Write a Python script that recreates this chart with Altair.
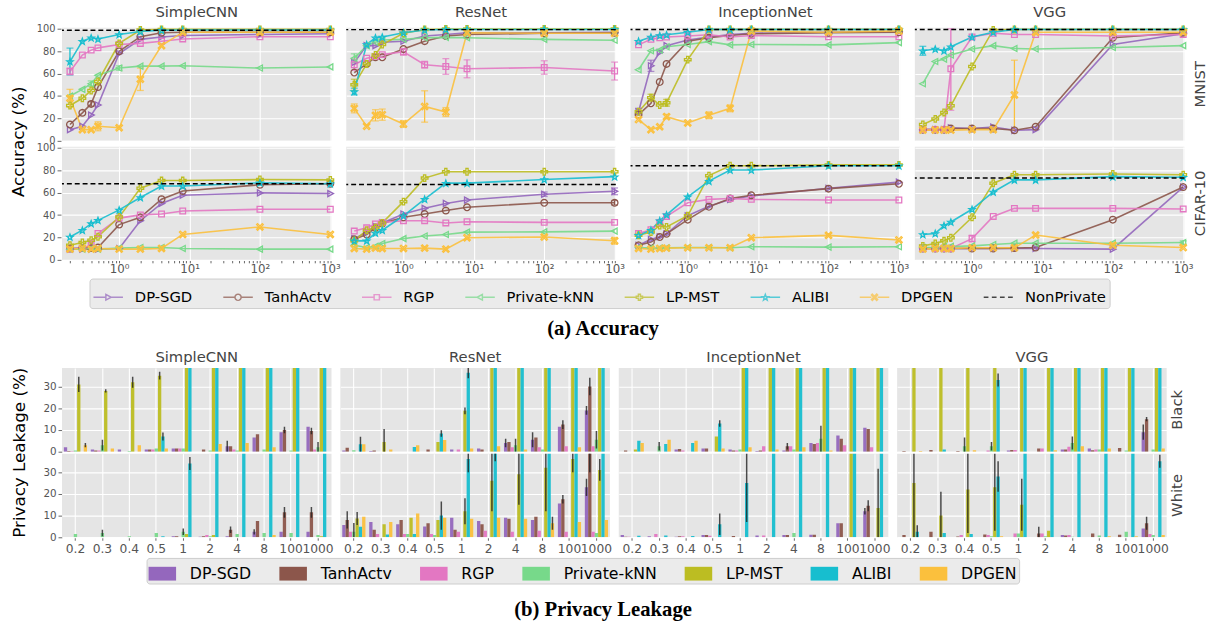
import math
import altair as alt
import pandas as pd

# ---------------- data ----------------
EPS = [0.2, 0.3, 0.4, 0.5, 1, 2, 4, 8, 100, 1000]
EPS_LABELS = ["0.2", "0.3", "0.4", "0.5", "1", "2", "4", "8", "100", "1000"]
METHODS = ["DP-SGD", "TanhActv", "RGP", "Private-kNN", "LP-MST", "ALIBI", "DPGEN"]
MODELS = ["SimpleCNN", "ResNet", "InceptionNet", "VGG"]
DATASETS = ["MNIST", "CIFAR-10"]
ATTACKS = ["Black", "White"]
COLORS = ["#9467bd", "#8c564b", "#e377c2", "#77d98a", "#bcbd22", "#17becf", "#fbc03d"]

# Accuracy (%) per dataset / model / method, one value per epsilon
ACC_MNIST_SIMPLECNN = {
    "DP-SGD": [10, 13, 23, 32, 78, 90.6, 92.7, 94, 95, 95.6],
    "TanhActv": [14.6, 25, 33, 48, 80, 93, 96.5, 97, 97, 97],
    "RGP": [62, 76.6, 81, 83, 86, 87, 89, 91, 93, 93],
    "Private-kNN": [40, 46, 51, 58.5, 65, 66.7, 66.7, 67, 65, 66],
    "LP-MST": [31.6, 38, 45, 53, 87, 99, 99.5, 99.5, 99.5, 99.5],
    "ALIBI": [70.8, 89, 92, 91, 95, 97.7, 98.8, 99, 99, 99],
    "DPGEN": [38, 10, 10, 13, 11.7, 55, 85, 97, 97, 97],
}
ACC_MNIST_RESNET = {
    "DP-SGD": [70, 85, 85, 88, 89, 93.6, 95, 96.5, 96.5, 97],
    "TanhActv": [61, 68.7, 74.6, 74.6, 82, 89, 93.6, 95, 96, 96.5],
    "RGP": [68, 73.7, 75.4, 77, 79.5, 68, 66.4, 64.3, 65.5, 62.3],
    "Private-kNN": [73.7, 85, 88, 90, 90.6, 92, 92.4, 92, 90.6, 89.8],
    "LP-MST": [50, 68.7, 76.6, 86, 96, 99.4, 99.8, 99.8, 99.8, 99.8],
    "ALIBI": [44, 86, 92, 92.7, 96.5, 99, 99.4, 99.4, 99.4, 99.4],
    "DPGEN": [29, 13, 22.8, 23.4, 15, 30.7, 25.7, 96.5, 96, 96],
}
ACC_MNIST_INCEPTION = {
    "DP-SGD": [26, 67, 79, 85, 90, 92.7, 95, 96, 97, 97.7],
    "TanhActv": [23.4, 33.6, 52.6, 68.7, 89, 92, 94, 95.6, 96.5, 97],
    "RGP": [85.7, 90.6, 92, 92.7, 93.6, 94.7, 92.7, 94, 93, 93],
    "Private-kNN": [63.5, 80.4, 81, 84, 86, 88.6, 85.7, 86, 85.7, 87.7],
    "LP-MST": [26, 38.6, 32, 34, 72.5, 99.4, 99.5, 99.5, 99.5, 99.5],
    "ALIBI": [89, 92.7, 94, 94.7, 97, 99.4, 99.4, 99.4, 99.4, 99.4],
    "DPGEN": [19, 10, 12.6, 21.6, 16, 22.8, 29, 98, 97, 98],
}
ACC_MNIST_VGG = {
    "DP-SGD": [10, 10, 10, 11.7, 11, 12.3, 9.4, 10, 86, 95.6],
    "TanhActv": [10, 10, 10, 11, 11, 11, 9.4, 12.6, 92, 96.5],
    "RGP": [10, 10, 10, 64.3, 92.7, 96, 95, 95, 93.6, 95],
    "Private-kNN": [51, 70.8, 73, 76.6, 82, 85, 82.5, 82, 83.3, 85],
    "LP-MST": [14.6, 19.6, 25.4, 31.3, 66.4, 99, 99.5, 99.5, 99.5, 99.5],
    "ALIBI": [80.4, 82, 80.4, 84, 92.7, 97, 99.4, 99.4, 99.4, 99.4],
    "DPGEN": [9.6, 9.6, 9.6, 9.6, 10, 10, 41, 97, 97, 97],
}
ACC_CIFAR_SIMPLECNN = {
    "DP-SGD": [9.6, 9.6, 9.6, 9.6, 10.2, 35, 50.4, 57.7, 59.8, 59.2],
    "TanhActv": [10.2, 10.5, 10.5, 11, 31.5, 38, 54.2, 61.5, 67, 68],
    "RGP": [9.6, 10.5, 13, 23.6, 37.3, 40.2, 41, 43.7, 45.2, 45.2],
    "Private-kNN": [9.6, 9.6, 10.2, 9.6, 10.5, 11, 11, 10.2, 9.6, 9.6],
    "LP-MST": [13, 15.5, 17.5, 20.7, 38.2, 64, 70.8, 70.8, 71.7, 71.4],
    "ALIBI": [20.4, 26.5, 32.4, 35.3, 44.6, 55.7, 66, 66, 68.8, 68],
    "DPGEN": [9.6, 10.2, 9.6, 10.2, 9.6, 9.6, 10.2, 22.7, 29.4, 22.7],
}
ACC_CIFAR_RESNET = {
    "DP-SGD": [19, 24.8, 30, 33, 41, 46, 50.4, 53.4, 58.6, 61.2],
    "TanhActv": [18.4, 22.7, 28.6, 32.4, 38, 41, 44, 47, 51, 51],
    "RGP": [25.7, 28.6, 32, 33.5, 35, 35, 33, 34, 33.5, 33.5],
    "Private-kNN": [13, 11, 12, 14.6, 19, 21.3, 22.7, 24.8, 25, 25.7],
    "LP-MST": [17, 26.5, 28.6, 33, 52, 73, 78.7, 78.7, 78.7, 78.7],
    "ALIBI": [17, 17, 24, 26.5, 39.4, 54.2, 68.5, 68.5, 71.7, 74.3],
    "DPGEN": [10.2, 9.6, 10.5, 10.2, 10.2, 10.5, 9.6, 19.8, 20.4, 17],
}
ACC_CIFAR_INCEPTION = {
    "DP-SGD": [13, 18.4, 20.7, 23.3, 39.4, 48, 54, 57, 64, 69.4],
    "TanhActv": [13, 16, 20.4, 23.3, 35.9, 47.5, 54.8, 57.7, 63.6, 68],
    "RGP": [23.6, 27, 33.5, 38.8, 51, 54, 54.8, 54, 53.4, 53.4],
    "Private-kNN": [11, 10.5, 10.5, 10.8, 11, 11, 10.8, 11.7, 11.4, 11.7],
    "LP-MST": [22, 24.8, 30.6, 29.4, 39.4, 75.2, 84, 84, 84.8, 84.8],
    "ALIBI": [22, 26.5, 35, 40.2, 56.3, 70.3, 80.2, 80.2, 84, 84],
    "DPGEN": [10.2, 9.6, 10.2, 10.5, 10.8, 10.8, 10.8, 19.8, 21.9, 17.8],
}
ACC_CIFAR_VGG = {
    "DP-SGD": [10.2, 10.2, 10.2, 10.2, 10.2, 10.2, 10.2, 10.2, 9.6, 65],
    "TanhActv": [10.2, 10.2, 10.2, 10.2, 10.2, 10.2, 10.5, 11, 35.9, 65],
    "RGP": [10.2, 10.2, 10.2, 10.2, 19, 38.8, 46, 46, 46, 45.5],
    "Private-kNN": [11, 11, 12, 12, 12.5, 13.7, 14.9, 14.9, 14.9, 15.5],
    "LP-MST": [12.5, 14.6, 17, 19.8, 38, 68.5, 76, 76, 76.7, 76],
    "ALIBI": [22.7, 23.6, 30.6, 33.8, 45.2, 60.6, 71.4, 71.4, 74.3, 73.8],
    "DPGEN": [9.6, 10.2, 10.2, 10.2, 10.8, 10.8, 10.8, 22.2, 13, 11],
}
NONPRIVATE_MNIST = [98.8, 99.3, 99.4, 99.4]
NONPRIVATE_CIFAR = [68, 67.3, 84, 73.2]

# notable accuracy error bars: (dataset, model, method, eps, +/- err)
ACC_ERRORS = [
    ("MNIST", "SimpleCNN", "ALIBI", 0.2, 12), ("MNIST", "SimpleCNN", "RGP", 0.2, 3),
    ("MNIST", "SimpleCNN", "DPGEN", 0.2, 8), ("MNIST", "SimpleCNN", "DPGEN", 0.5, 4),
    ("MNIST", "SimpleCNN", "DPGEN", 2, 10), ("MNIST", "SimpleCNN", "Private-kNN", 1, 2),
    ("MNIST", "SimpleCNN", "Private-kNN", 0.4, 2.5), ("MNIST", "SimpleCNN", "TanhActv", 0.4, 2),
    ("MNIST", "ResNet", "RGP", 0.2, 5), ("MNIST", "ResNet", "RGP", 1, 3),
    ("MNIST", "ResNet", "RGP", 2, 3), ("MNIST", "ResNet", "RGP", 4, 7),
    ("MNIST", "ResNet", "RGP", 8, 8), ("MNIST", "ResNet", "RGP", 100, 6),
    ("MNIST", "ResNet", "RGP", 1000, 8), ("MNIST", "ResNet", "Private-kNN", 0.2, 4),
    ("MNIST", "ResNet", "LP-MST", 0.2, 5), ("MNIST", "ResNet", "ALIBI", 0.2, 3),
    ("MNIST", "ResNet", "DPGEN", 0.2, 4), ("MNIST", "ResNet", "DPGEN", 0.4, 5),
    ("MNIST", "ResNet", "DPGEN", 0.5, 5), ("MNIST", "ResNet", "DPGEN", 1, 3),
    ("MNIST", "ResNet", "DPGEN", 2, 14), ("MNIST", "ResNet", "DPGEN", 4, 4),
    ("MNIST", "InceptionNet", "DP-SGD", 0.2, 3), ("MNIST", "InceptionNet", "DP-SGD", 0.3, 5),
    ("MNIST", "InceptionNet", "LP-MST", 0.3, 3), ("MNIST", "InceptionNet", "LP-MST", 0.5, 3),
    ("MNIST", "InceptionNet", "DPGEN", 0.5, 2), ("MNIST", "InceptionNet", "DPGEN", 2, 3),
    ("MNIST", "InceptionNet", "DPGEN", 4, 3),
    ("MNIST", "VGG", "ALIBI", 0.2, 4), ("MNIST", "VGG", "RGP", 0.5, 37),
    ("MNIST", "VGG", "DPGEN", 4, 31),
    ("CIFAR-10", "SimpleCNN", "RGP", 0.4, 4),
    ("CIFAR-10", "ResNet", "DP-SGD", 1000, 3), ("CIFAR-10", "ResNet", "DP-SGD", 100, 2),
    ("CIFAR-10", "ResNet", "DPGEN", 1000, 3), ("CIFAR-10", "ResNet", "TanhActv", 1000, 2),
    ("CIFAR-10", "VGG", "RGP", 1, 3), ("CIFAR-10", "VGG", "DPGEN", 100, 2),
    ("CIFAR-10", "VGG", "Private-kNN", 1000, 1.5),
]

# Privacy leakage (%) per model / attack / method, one value per epsilon
LEAK_SIMPLECNN_BLACK = {
    "DP-SGD": [2, 1, 1, 1, 1.5, 0, 2.5, 6.5, 9, 11.5],
    "TanhActv": [0.3, 0.5, 0, 1, 1.5, 1, 2.5, 8, 10, 9.5],
    "RGP": [0.2, 0.5, 0, 1, 1.5, 0, 1, 0, 0, 1],
    "Private-kNN": [0.5, 3, 0.3, 1.5, 1.5, 0.5, 0.5, 1, 0.5, 2],
    "LP-MST": [31, 28, 32, 35, 100, 100, 100, 100, 100, 100],
    "ALIBI": [0, 0, 0, 7, 100, 100, 100, 100, 100, 100],
    "DPGEN": [3, 1.5, 3, 1.5, 0, 3.5, 4, 2, 0, 0],
}
LEAK_SIMPLECNN_WHITE = {
    "DP-SGD": [0, 0, 0, 0, 0.5, 0.3, 0.5, 2.5, 2.5, 2.5],
    "TanhActv": [0, 0, 0, 0, 0.5, 0.5, 3.5, 7.5, 11.5, 11.5],
    "RGP": [0, 0, 0, 0, 0, 1, 0, 0, 0, 0],
    "Private-kNN": [1.5, 2, 0.5, 2, 2.5, 0.5, 1.5, 2, 2, 1],
    "LP-MST": [0, 0, 0, 0, 1.5, 1, 0, 0, 0, 0.5],
    "ALIBI": [0, 0, 0, 0.5, 34, 100, 100, 100, 100, 100],
    "DPGEN": [0, 0, 0, 0, 0, 0, 0, 1, 0, 0],
}
LEAK_RESNET_BLACK = {
    "DP-SGD": [0.5, 0.3, 0, 0, 1, 1.5, 4, 5.5, 11.5, 19],
    "TanhActv": [1.8, 0.5, 0, 1, 0, 1, 4.5, 6.5, 12.5, 30],
    "RGP": [0, 0, 0, 0, 1, 0, 2, 2, 2.5, 2.5],
    "Private-kNN": [0.7, 0, 0, 0, 0, 0, 3, 1, 0, 5.5],
    "LP-MST": [0, 4.5, 0, 4.5, 18.8, 100, 100, 100, 100, 100],
    "ALIBI": [3.4, 0, 2.2, 8.4, 36.3, 100, 100, 100, 100, 100],
    "DPGEN": [3.4, 1, 3, 5.4, 1.5, 2.5, 1, 0, 2, 0],
}
LEAK_RESNET_WHITE = {
    "DP-SGD": [5.7, 7, 6, 5, 9, 7.5, 9, 8, 15.5, 23],
    "TanhActv": [8, 3.5, 8, 6.5, 3.5, 6, 8.5, 9.5, 17.5, 40],
    "RGP": [2.6, 1.5, 1.5, 1.5, 2.5, 3, 2.5, 3, 2.5, 2.5],
    "Private-kNN": [2.6, 0, 1.5, 1, 0, 0, 0, 0, 0, 2],
    "LP-MST": [8.6, 6, 9, 8, 12, 26, 29, 32, 36, 31],
    "ALIBI": [4.8, 1.3, 1.5, 10, 36, 40, 100, 100, 100, 100],
    "DPGEN": [9.4, 7, 11, 9, 8.5, 9, 8.5, 6.5, 7, 8],
}
LEAK_INCEPTION_BLACK = {
    "DP-SGD": [0, 0, 1, 1.5, 1, 0.3, 0.5, 4, 7.5, 11],
    "TanhActv": [0.5, 0, 1.3, 1.5, 0.5, 0.5, 2.5, 3.5, 6, 10.5],
    "RGP": [0, 0, 0.5, 0, 0.5, 2.5, 2.5, 4, 3, 2],
    "Private-kNN": [0, 2.5, 0, 0, 1, 0, 1, 6, 0, 0],
    "LP-MST": [1, 0, 0, 7, 100, 100, 100, 100, 100, 100],
    "ALIBI": [5, 3.5, 4, 13, 100, 100, 100, 100, 100, 100],
    "DPGEN": [4, 5.5, 5, 1.5, 2, 1, 2, 0.5, 0, 0],
}
LEAK_INCEPTION_WHITE = {
    "DP-SGD": [1, 0.5, 0.3, 1, 0, 0.8, 1, 1.2, 6.5, 12],
    "TanhActv": [0.3, 0, 0.5, 1, 0.6, 0, 1, 1.2, 6.5, 14.5],
    "RGP": [0.3, 1.5, 0.5, 0.7, 0, 0.8, 0, 0, 0, 0],
    "Private-kNN": [0, 0, 0, 0, 0, 0, 2, 0, 0, 0],
    "LP-MST": [0, 0, 0, 0, 0, 0, 0, 0, 100, 13.5],
    "ALIBI": [0.7, 0.8, 0.6, 6, 25, 100, 100, 100, 100, 100],
    "DPGEN": [0, 0, 0, 0, 0, 0, 0, 0, 0, 0],
}
LEAK_VGG_BLACK = {
    "DP-SGD": [0, 0, 0, 0, 0.5, 0, 1, 1.5, 0, 9],
    "TanhActv": [0.3, 0.8, 0.3, 0, 0.8, 1.5, 1, 0.7, 1.7, 15],
    "RGP": [0, 0, 0, 0.5, 0.8, 1.5, 2.3, 1, 0, 0],
    "Private-kNN": [0, 0, 2.5, 2.5, 0, 0, 4, 1, 0.5, 1],
    "LP-MST": [100, 100, 100, 100, 100, 100, 100, 100, 100, 100],
    "ALIBI": [0, 1, 0, 33, 100, 100, 100, 100, 100, 100],
    "DPGEN": [0.3, 0, 0.7, 0, 0, 0.7, 2.5, 1.5, 0, 1.5],
}
LEAK_VGG_WHITE = {
    "DP-SGD": [0, 0, 0, 0, 0, 0, 1, 0, 0, 4],
    "TanhActv": [1, 2.5, 0.4, 1.3, 0, 1.8, 0.8, 1.8, 1.2, 6.5],
    "RGP": [0, 0, 1, 1, 1.8, 1.8, 1, 0, 0, 1.5],
    "Private-kNN": [0, 0, 0, 0.5, 1.8, 0.5, 0.3, 0.8, 2.5, 1],
    "LP-MST": [25, 10, 22, 23, 15, 3, 0, 0, 0, 0],
    "ALIBI": [2.5, 2, 1.5, 28, 100, 100, 100, 100, 100, 35],
    "DPGEN": [0, 0, 0, 0.5, 0, 0, 0, 0.5, 0.5, 1],
}
# notable leakage error bars: (model, attack, method, eps label, +/- err)
LEAK_ERRORS = [
    ("SimpleCNN", "Black", "LP-MST", "0.2", 3.5), ("SimpleCNN", "Black", "LP-MST", "0.3", 0.7),
    ("SimpleCNN", "Black", "LP-MST", "0.4", 2.5), ("SimpleCNN", "Black", "LP-MST", "0.5", 1.8),
    ("SimpleCNN", "Black", "ALIBI", "0.5", 1.8), ("SimpleCNN", "Black", "Private-kNN", "0.3", 2.5),
    ("SimpleCNN", "Black", "DP-SGD", "4", 2.5), ("SimpleCNN", "Black", "TanhActv", "100", 1.5),
    ("SimpleCNN", "Black", "TanhActv", "1000", 1.5), ("SimpleCNN", "Black", "Private-kNN", "1000", 2.5),
    ("SimpleCNN", "Black", "DPGEN", "0.2", 1),
    ("SimpleCNN", "White", "ALIBI", "1", 3), ("SimpleCNN", "White", "TanhActv", "100", 2.5),
    ("SimpleCNN", "White", "TanhActv", "1000", 2.5), ("SimpleCNN", "White", "Private-kNN", "1", 1.5),
    ("SimpleCNN", "White", "Private-kNN", "0.3", 1.5), ("SimpleCNN", "White", "TanhActv", "4", 1.5),
    ("SimpleCNN", "White", "DP-SGD", "8", 1.2),
    ("ResNet", "Black", "LP-MST", "0.3", 6), ("ResNet", "Black", "ALIBI", "0.2", 3.5),
    ("ResNet", "Black", "ALIBI", "1", 2.5), ("ResNet", "Black", "TanhActv", "1000", 4),
    ("ResNet", "Black", "Private-kNN", "1000", 4), ("ResNet", "Black", "TanhActv", "100", 2),
    ("ResNet", "Black", "DP-SGD", "8", 3.5), ("ResNet", "Black", "Private-kNN", "4", 3),
    ("ResNet", "Black", "DP-SGD", "4", 2), ("ResNet", "Black", "ALIBI", "0.5", 1.5),
    ("ResNet", "Black", "LP-MST", "1", 1.5), ("ResNet", "Black", "DP-SGD", "1000", 2),
    ("ResNet", "White", "ALIBI", "1", 6), ("ResNet", "White", "ALIBI", "2", 5),
    ("ResNet", "White", "LP-MST", "2", 14), ("ResNet", "White", "LP-MST", "4", 14),
    ("ResNet", "White", "LP-MST", "8", 20), ("ResNet", "White", "LP-MST", "100", 6),
    ("ResNet", "White", "LP-MST", "1000", 5), ("ResNet", "White", "TanhActv", "1000", 10),
    ("ResNet", "White", "TanhActv", "0.2", 4), ("ResNet", "White", "LP-MST", "1", 6),
    ("ResNet", "White", "ALIBI", "0.5", 6.5), ("ResNet", "White", "DP-SGD", "1000", 4),
    ("ResNet", "White", "TanhActv", "100", 2), ("ResNet", "White", "Private-kNN", "0.2", 4),
    ("ResNet", "White", "DPGEN", "8", 3), ("ResNet", "White", "LP-MST", "0.2", 3),
    ("InceptionNet", "Black", "Private-kNN", "8", 6), ("InceptionNet", "Black", "ALIBI", "0.5", 1.5),
    ("InceptionNet", "Black", "Private-kNN", "0.3", 2), ("InceptionNet", "Black", "TanhActv", "4", 1.5),
    ("InceptionNet", "White", "ALIBI", "1", 18), ("InceptionNet", "White", "ALIBI", "2", 18),
    ("InceptionNet", "White", "ALIBI", "4", 15), ("InceptionNet", "White", "ALIBI", "8", 13),
    ("InceptionNet", "White", "LP-MST", "1000", 18), ("InceptionNet", "White", "ALIBI", "0.5", 5),
    ("InceptionNet", "White", "TanhActv", "1000", 2.5), ("InceptionNet", "White", "DP-SGD", "1000", 1.5),
    ("VGG", "Black", "Private-kNN", "0.4", 4), ("VGG", "Black", "ALIBI", "0.5", 3),
    ("VGG", "Black", "DP-SGD", "1000", 3.5), ("VGG", "Black", "Private-kNN", "4", 3),
    ("VGG", "Black", "Private-kNN", "0.5", 2), ("VGG", "Black", "TanhActv", "1000", 1),
    ("VGG", "White", "LP-MST", "0.2", 25), ("VGG", "White", "LP-MST", "0.3", 11),
    ("VGG", "White", "LP-MST", "0.4", 20), ("VGG", "White", "LP-MST", "0.5", 20),
    ("VGG", "White", "ALIBI", "0.5", 7), ("VGG", "White", "LP-MST", "1", 12),
    ("VGG", "White", "ALIBI", "0.2", 3), ("VGG", "White", "ALIBI", "1000", 3),
    ("VGG", "White", "TanhActv", "1000", 3), ("VGG", "White", "TanhActv", "2", 3),
]

ACC_PANELS = {
    ("MNIST", "SimpleCNN"): ACC_MNIST_SIMPLECNN, ("MNIST", "ResNet"): ACC_MNIST_RESNET,
    ("MNIST", "InceptionNet"): ACC_MNIST_INCEPTION, ("MNIST", "VGG"): ACC_MNIST_VGG,
    ("CIFAR-10", "SimpleCNN"): ACC_CIFAR_SIMPLECNN, ("CIFAR-10", "ResNet"): ACC_CIFAR_RESNET,
    ("CIFAR-10", "InceptionNet"): ACC_CIFAR_INCEPTION, ("CIFAR-10", "VGG"): ACC_CIFAR_VGG,
}
NONPRIVATE = {"MNIST": NONPRIVATE_MNIST, "CIFAR-10": NONPRIVATE_CIFAR}
LEAK_PANELS = {
    ("Black", "SimpleCNN"): LEAK_SIMPLECNN_BLACK, ("White", "SimpleCNN"): LEAK_SIMPLECNN_WHITE,
    ("Black", "ResNet"): LEAK_RESNET_BLACK, ("White", "ResNet"): LEAK_RESNET_WHITE,
    ("Black", "InceptionNet"): LEAK_INCEPTION_BLACK, ("White", "InceptionNet"): LEAK_INCEPTION_WHITE,
    ("Black", "VGG"): LEAK_VGG_BLACK, ("White", "VGG"): LEAK_VGG_WHITE,
}

# ---------------- tables ----------------
top_rows = []
for (ds, model), series in ACC_PANELS.items():
    for m, vals in series.items():
        for e, v in zip(EPS, vals):
            top_rows.append(dict(kind="line", dataset=ds, model=model, method=m, eps=e, acc=v, lo=v, hi=v))
    top_rows.append(dict(kind="np", dataset=ds, model=model, method="NonPrivate", eps=1,
                         acc=NONPRIVATE[ds][MODELS.index(model)], lo=0, hi=0))
for ds, model, m, e, err in ACC_ERRORS:
    v = ACC_PANELS[(ds, model)][m][EPS.index(e)]
    top_rows.append(dict(kind="err", dataset=ds, model=model, method=m, eps=e, acc=v,
                         lo=max(v - err, 0), hi=min(v + err, 100)))
df_top = pd.DataFrame(top_rows)

bot_rows = []
for (att, model), series in LEAK_PANELS.items():
    for m, vals in series.items():
        for lab, v in zip(EPS_LABELS, vals):
            bot_rows.append(dict(kind="bar", attack=att, model=model, method=m, eps=lab, val=v, lo=v, hi=v))
for model, att, m, lab, err in LEAK_ERRORS:
    v = LEAK_PANELS[(att, model)][m][EPS_LABELS.index(lab)]
    bot_rows.append(dict(kind="err", attack=att, model=model, method=m, eps=lab, val=v,
                         lo=max(v - err, 0), hi=v + err))
df_bot = pd.DataFrame(bot_rows)

LEG_DOMAIN = METHODS + ["NonPrivate"]
LEG_COLORS = COLORS + ["#000000"]
df_leg_top = pd.DataFrame({"entry": LEG_DOMAIN})
df_leg_bot = pd.DataFrame({"entry": METHODS})

# ---------------- marker shapes ----------------
def poly(points, s=1.0):
    return "M" + "L".join(f"{x * s:.3f},{y * s:.3f}" for x, y in points) + "Z"

CIRCLE_PTS = [(math.cos(2 * math.pi * k / 16), math.sin(2 * math.pi * k / 16)) for k in range(16)]
TRI_R_PTS = [(-0.75, -0.9), (0.95, 0), (-0.75, 0.9)]
TRI_L_PTS = [(0.75, -0.9), (-0.95, 0), (0.75, 0.9)]
SQUARE_PTS = [(-0.85, -0.85), (0.85, -0.85), (0.85, 0.85), (-0.85, 0.85)]
PLUS_PTS = [(-0.33, -1), (0.33, -1), (0.33, -0.33), (1, -0.33), (1, 0.33), (0.33, 0.33), (0.33, 1),
            (-0.33, 1), (-0.33, 0.33), (-1, 0.33), (-1, -0.33), (-0.33, -0.33)]
STAR_PTS = []
for k in range(10):
    r = 1.0 if k % 2 == 0 else 0.42
    a = -math.pi / 2 + k * math.pi / 5
    STAR_PTS.append((r * math.cos(a), r * math.sin(a) + 0.1))
X_PTS = [(-0.7, -1), (0, -0.3), (0.7, -1), (1, -0.7), (0.3, 0), (1, 0.7), (0.7, 1), (0, 0.3),
         (-0.7, 1), (-1, 0.7), (-0.3, 0), (-1, -0.7)]
MARKER_PTS = [TRI_R_PTS, CIRCLE_PTS, SQUARE_PTS, TRI_L_PTS, PLUS_PTS, STAR_PTS, X_PTS]
PLOT_SHAPES = [poly(p) for p in MARKER_PTS]

R = 0.21  # marker radius inside legend symbol (unit = half symbol width)
LEGEND_PATHS = [f"M-1,0L{-R:.2f},0M{R:.2f},0L1,0" + poly(p, R) for p in MARKER_PTS]
LEGEND_PATHS.append("M-1,0L-0.68,0M-0.45,0L-0.13,0M0.1,0L0.42,0M0.65,0L0.97,0")

# ---------------- shared styling ----------------
def row_header(title):
    return alt.Header(title=title, titleOrient="left", titleAngle=270, titleFontSize=17, titleColor="black",
                      titleFont="DejaVu Sans", titleFontWeight="normal", titlePadding=-21,
                      labelOrient="right", labelAngle=270, labelFontSize=15, labelColor="#444",
                      labelFont="DejaVu Sans", labelPadding=4)

HEADER_COL = alt.Header(title=None, labelFontSize=15, labelColor="#444", labelFont="DejaVu Sans", labelPadding=3)

# ---------------- accuracy grid ----------------
MINOR = [0.2, 0.3, 0.4, 0.5, 0.6, 0.7, 0.8, 0.9, 1, 2, 3, 4, 5, 6, 7, 8, 9, 10,
         20, 30, 40, 50, 60, 70, 80, 90, 100, 200, 300, 400, 500, 600, 700, 800, 900, 1000]
DECADE_TEST = "datum.value == 1 || datum.value == 10 || datum.value == 100 || datum.value == 1000"

x_acc = alt.X(
    "eps:Q",
    scale=alt.Scale(type="log", domain=[0.154, 1040], nice=False),
    axis=alt.Axis(
        title=None, values=MINOR, tickSize=3, labelPadding=1, labelFontSize=12,
        labelFlush=False, labelOverlap=False,
        labelExpr="datum.value == 1 ? '10⁰' : datum.value == 10 ? '10¹' : datum.value == 100 ? '10²' : datum.value == 1000 ? '10³' : ''",
        gridOpacity={"condition": {"test": DECADE_TEST, "value": 1}, "value": 0},
    ),
)
Y_AXIS_ACC = alt.Axis(values=[0, 20, 40, 60, 80, 100], tickSize=4, labelPadding=2, labelFontSize=10,
                      title=None, minExtent=28, maxExtent=28)
y_scale_acc = alt.Scale(domain=[0, 101], nice=False)


def y_acc(field):
    return alt.Y(f"{field}:Q", scale=y_scale_acc, axis=Y_AXIS_ACC, title=None)


color_plot = alt.Color("method:N", scale=alt.Scale(domain=METHODS, range=COLORS), legend=None)
base = alt.Chart()

lines = base.transform_filter("datum.kind == 'line'").mark_line(strokeWidth=1.6, opacity=0.9).encode(
    x=x_acc, y=y_acc("acc"), color=color_plot)
err_v = base.transform_filter("datum.kind == 'err'").mark_rule(strokeWidth=1.3).encode(
    x=x_acc, y=y_acc("lo"), y2="hi:Q", color=color_plot)
cap_lo = base.transform_filter("datum.kind == 'err'").mark_tick(orient="horizontal", size=7, thickness=1.3).encode(
    x=x_acc, y=y_acc("lo"), color=color_plot)
cap_hi = base.transform_filter("datum.kind == 'err'").mark_tick(orient="horizontal", size=7, thickness=1.3).encode(
    x=x_acc, y=y_acc("hi"), color=color_plot)
points = base.transform_filter("datum.kind == 'line'").mark_point(filled=False, size=46, strokeWidth=1.3, opacity=1).encode(
    x=x_acc, y=y_acc("acc"), color=color_plot,
    shape=alt.Shape("method:N", scale=alt.Scale(domain=METHODS, range=PLOT_SHAPES), legend=None))
np_rule = base.transform_filter("datum.kind == 'np'").mark_rule(color="black", strokeDash=[5, 3], strokeWidth=1.5).encode(
    y=y_acc("acc"))

top_layer = alt.layer(lines, err_v, cap_lo, cap_hi, points, np_rule).properties(width=274, height=115)

top = top_layer.facet(
    data=df_top,
    row=alt.Row("dataset:N", sort=DATASETS, header=row_header("Accuracy (%)")),
    column=alt.Column("model:N", sort=MODELS, header=HEADER_COL),
    spacing={"row": 6, "column": 9},
)

TOP_LEGEND = alt.Legend(
    title=None, orient="none", direction="horizontal", columns=8, legendX=28, legendY=0,
    symbolSize=900, symbolStrokeWidth=1.5, labelFont="DejaVu Sans", labelFontSize=15, labelColor="black",
    labelOffset=11, columnPadding=28, padding=3, fillColor="#ebebeb", strokeColor="#cccccc", cornerRadius=3,
)
top_legend = alt.Chart(df_leg_top).transform_filter("datum.entry == 'none'").mark_point(
    filled=False, strokeWidth=1.5).encode(
    color=alt.Color("entry:N", scale=alt.Scale(domain=LEG_DOMAIN, range=LEG_COLORS), legend=TOP_LEGEND),
    shape=alt.Shape("entry:N", scale=alt.Scale(domain=LEG_DOMAIN, range=LEGEND_PATHS), legend=TOP_LEGEND),
).properties(width=1100, height=1, view=alt.ViewBackground(fill=None, stroke=None),
             title=alt.TitleParams("(a) Accuracy", orient="bottom", anchor="middle", frame="group",
                                   font="Liberation Serif", fontSize=21, fontWeight="bold", color="black", offset=10))

# ---------------- privacy leakage grid ----------------
x_leak = alt.X("eps:N", sort=EPS_LABELS, scale=alt.Scale(domain=EPS_LABELS, paddingInner=0.14, paddingOuter=0.07),
               axis=alt.Axis(title=None, labelAngle=0, labelFontSize=12.5, tickSize=3, labelPadding=2,
                             bandPosition=0.5, grid=True))
xo_leak = alt.XOffset("method:N", sort=METHODS, scale=alt.Scale(domain=METHODS, paddingInner=0, paddingOuter=0))
Y_AXIS_LEAK = alt.Axis(values=[0, 10, 20, 30], tickSize=4, labelPadding=2, labelFontSize=10.5,
                       title=None, minExtent=28, maxExtent=28)
y_scale_leak = alt.Scale(domain=[0, 38.5], nice=False)

bars = base.transform_filter("datum.kind == 'bar'").mark_bar(clip=True, opacity=0.95).encode(
    x=x_leak, xOffset=xo_leak,
    y=alt.Y("val:Q", scale=y_scale_leak, axis=Y_AXIS_LEAK, title=None),
    color=alt.Color("method:N", scale=alt.Scale(domain=METHODS, range=COLORS), legend=None),
)
bar_err = base.transform_filter("datum.kind == 'err'").mark_rule(clip=True, color="#222222", strokeWidth=1.5, opacity=0.8).encode(
    x=x_leak, xOffset=xo_leak,
    y=alt.Y("lo:Q", scale=y_scale_leak, axis=Y_AXIS_LEAK, title=None), y2="hi:Q",
)
bot_layer = alt.layer(bars, bar_err).properties(width=274, height=85)
bottom = bot_layer.facet(
    data=df_bot,
    row=alt.Row("attack:N", sort=ATTACKS, header=row_header("Privacy Leakage (%)")),
    column=alt.Column("model:N", sort=MODELS, header=HEADER_COL),
    spacing={"row": 2, "column": 9},
)

BOT_LEGEND = alt.Legend(
    title=None, orient="none", direction="horizontal", columns=7, legendX=86, legendY=0,
    symbolType="M-1,-0.5L1,-0.5L1,0.5L-1,0.5Z", symbolSize=784, symbolStrokeWidth=0,
    labelFont="DejaVu Sans", labelFontSize=16, labelColor="black", labelOffset=14, columnPadding=28,
    padding=2, fillColor="#ebebeb", strokeColor="#cccccc", cornerRadius=3,
)
bot_legend = alt.Chart(df_leg_bot).transform_filter("datum.entry == 'none'").mark_bar().encode(
    color=alt.Color("entry:N", scale=alt.Scale(domain=METHODS, range=COLORS), legend=BOT_LEGEND),
).properties(width=1100, height=1, view=alt.ViewBackground(fill=None, stroke=None),
             title=alt.TitleParams("(b) Privacy Leakage", orient="bottom", anchor="middle", frame="group",
                                   font="Liberation Serif", fontSize=21, fontWeight="bold", color="black", offset=16))

part_a = alt.vconcat(top, top_legend, spacing=3).resolve_scale(color="independent", shape="independent")
part_b = alt.vconcat(bottom, bot_legend, spacing=2).resolve_scale(color="independent", shape="independent")

chart = alt.vconcat(part_a, part_b, spacing=11).resolve_scale(
    color="independent", shape="independent").properties(
    padding={"left": 9, "top": 0, "right": 0, "bottom": 0}
).configure_view(fill="#e5e5e5", stroke=None).configure_axis(
    domain=False, gridColor="white", gridWidth=1.1, tickColor="#666666", labelColor="#555555",
    labelFont="DejaVu Sans", titleFont="DejaVu Sans", titleFontWeight="normal", titleColor="black",
)

chart.save("out.html", embed_options={"renderer": "svg", "actions": False})
